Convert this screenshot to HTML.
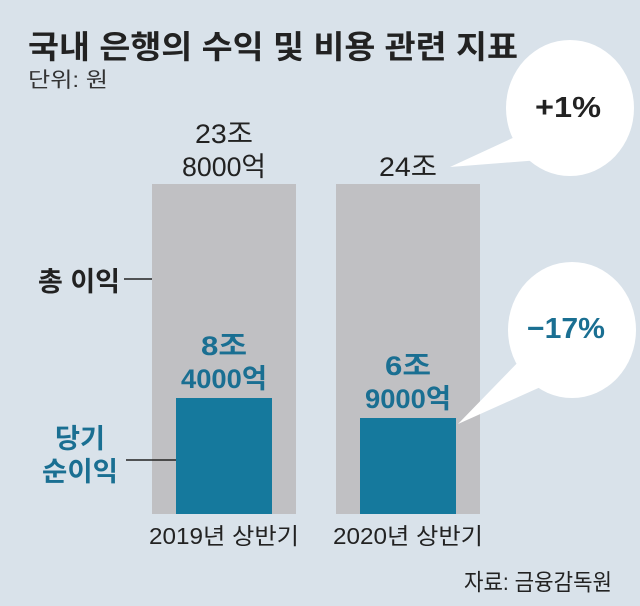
<!DOCTYPE html>
<html><head><meta charset="utf-8"><style>
html,body{margin:0;padding:0;background:#d9e2ea;}
svg{display:block}
text{font-family:"Liberation Sans Narrow","Liberation Sans","Noto Sans CJK KR",sans-serif;}
</style></head><body>
<svg width="640" height="606" viewBox="0 0 640 606">
<rect width="640" height="606" fill="#d9e2ea"/>
<text x="28" y="58" font-size="32" font-weight="bold" fill="#222" textLength="490" lengthAdjust="spacingAndGlyphs">국내 은행의 수익 및 비용 관련 지표</text>
<text x="28" y="87" font-size="21" fill="#333" textLength="80" lengthAdjust="spacingAndGlyphs">단위: 원</text>
<!-- bars -->
<rect x="152" y="184" width="144" height="330" fill="#c0c0c3"/>
<rect x="336" y="184" width="144" height="330" fill="#c0c0c3"/>
<rect x="176" y="398" width="96" height="116" fill="#15799d"/>
<rect x="360" y="418" width="96" height="96" fill="#15799d"/>
<!-- top labels -->
<g font-size="27" fill="#222" text-anchor="middle">
<text x="224" y="143" textLength="58" lengthAdjust="spacingAndGlyphs">23조</text>
<text x="224" y="176" textLength="84" lengthAdjust="spacingAndGlyphs">8000억</text>
<text x="408" y="176" textLength="58" lengthAdjust="spacingAndGlyphs">24조</text>
</g>
<g font-size="27" fill="#1a6f92" font-weight="bold" text-anchor="middle">
<text x="224" y="355" textLength="46" lengthAdjust="spacingAndGlyphs">8조</text>
<text x="224" y="388" textLength="86" lengthAdjust="spacingAndGlyphs">4000억</text>
<text x="408" y="375" textLength="46" lengthAdjust="spacingAndGlyphs">6조</text>
<text x="408" y="408" textLength="86" lengthAdjust="spacingAndGlyphs">9000억</text>
</g>
<!-- legend labels -->
<text x="38" y="291" font-size="27" font-weight="bold" fill="#222" textLength="82" lengthAdjust="spacingAndGlyphs">총 이익</text>
<line x1="124" y1="279" x2="152" y2="279" stroke="#222" stroke-width="1.5"/>
<g font-size="27" font-weight="bold" fill="#1a6f92" text-anchor="middle">
<text x="80" y="448" textLength="50" lengthAdjust="spacingAndGlyphs">당기</text>
<text x="80" y="481" textLength="76" lengthAdjust="spacingAndGlyphs">순이익</text>
</g>
<line x1="126" y1="460" x2="176" y2="460" stroke="#222" stroke-width="1.5"/>
<!-- x labels -->
<g font-size="23" fill="#222" text-anchor="middle">
<text x="224" y="544" textLength="150" lengthAdjust="spacingAndGlyphs">2019년 상반기</text>
<text x="408" y="544" textLength="150" lengthAdjust="spacingAndGlyphs">2020년 상반기</text>
</g>
<text x="612" y="590" font-size="23" fill="#222" text-anchor="end" textLength="148" lengthAdjust="spacingAndGlyphs">자료: 금융감독원</text>
<!-- bubbles -->
<path d="M450 167 L530 130 L540 160 Z" fill="#fff"/>
<ellipse cx="570" cy="108" rx="64" ry="68" fill="#fff"/>
<text x="568" y="117" font-size="29" font-weight="bold" fill="#222" text-anchor="middle" textLength="66" lengthAdjust="spacingAndGlyphs">+1%</text>
<path d="M458 424 L525 355 L545 385 Z" fill="#fff"/>
<ellipse cx="572" cy="330" rx="64" ry="68" fill="#fff"/>
<text x="566" y="338" font-size="29" font-weight="bold" fill="#1a6f92" text-anchor="middle" textLength="78" lengthAdjust="spacingAndGlyphs">−17%</text>
</svg>
</body></html>
